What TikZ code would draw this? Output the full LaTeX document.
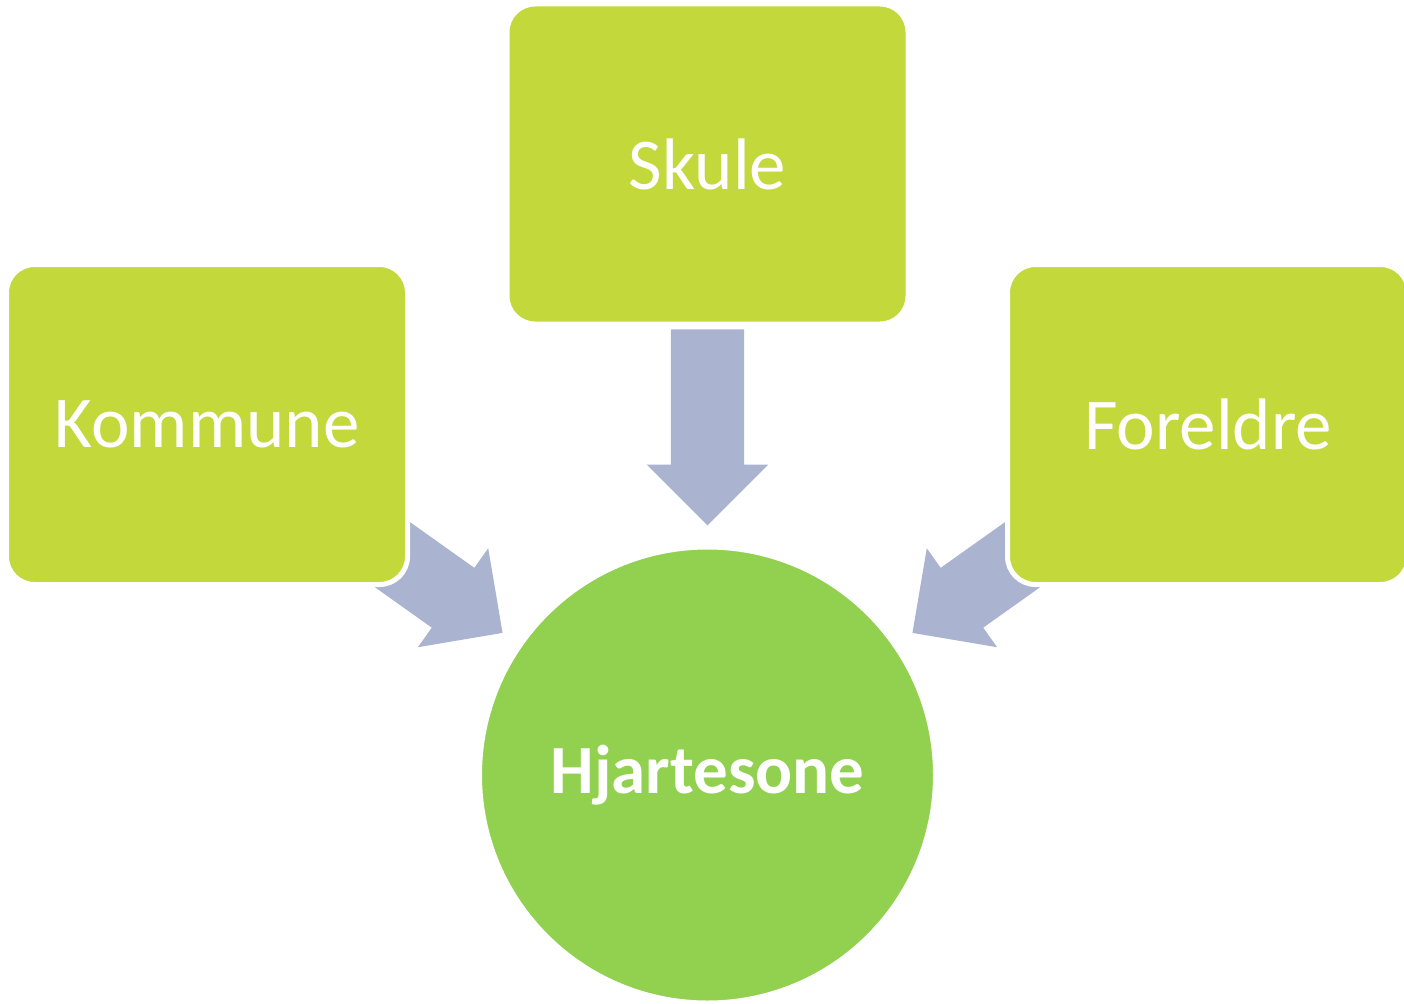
\documentclass[tikz,border=0pt]{standalone}
\usepackage{fontspec}
\setmainfont{Carlito}
\usetikzlibrary{shapes,arrows}
\definecolor{limegreen}{HTML}{C3D83B}
\definecolor{heartgreen}{HTML}{92D050}
\definecolor{flowblue}{HTML}{AAB3D0}
\tikzstyle{box} = [rectangle, rounded corners=28pt, fill=limegreen, draw=white, line width=5pt,
minimum width=401pt, minimum height=320pt, text=white, font=\fontsize{73}{88}\selectfont]
\tikzstyle{heart} = [circle, fill=heartgreen, draw=white, line width=5pt, minimum size=456pt,
text=white, font=\fontsize{69}{83}\selectfont\bfseries]
\tikzstyle{flow} = [single arrow, fill=flowblue, draw=none, inner xsep=0pt, inner ysep=36.5pt,
minimum height=196pt, single arrow head extend=24pt, single arrow tip angle=90]

\begin{document}
\begin{tikzpicture}[x=1pt, y=-1pt]
	\useasboundingbox (0,0) rectangle (1404,1003);
	%% Flows
	\node [flow, rotate=-90] (f1) at (707.5,409) {};
	\node [flow, rotate=-35.4] (f2) at (407.7,565.5) {};
	\node [flow, rotate=-144.6] (f3) at (1007.3,565.5) {};
	%% Boxes
	\node [box] (skule) at (707.5,164) {Skule};
	\node [box] (kommune) at (207,424.5) {Kommune};
	\node [box] (foreldre) at (1208,424.5) {Foreldre};
	\node [heart] (hjarte) at (707.5,775) {Hjartesone};
\end{tikzpicture}
\end{document}
